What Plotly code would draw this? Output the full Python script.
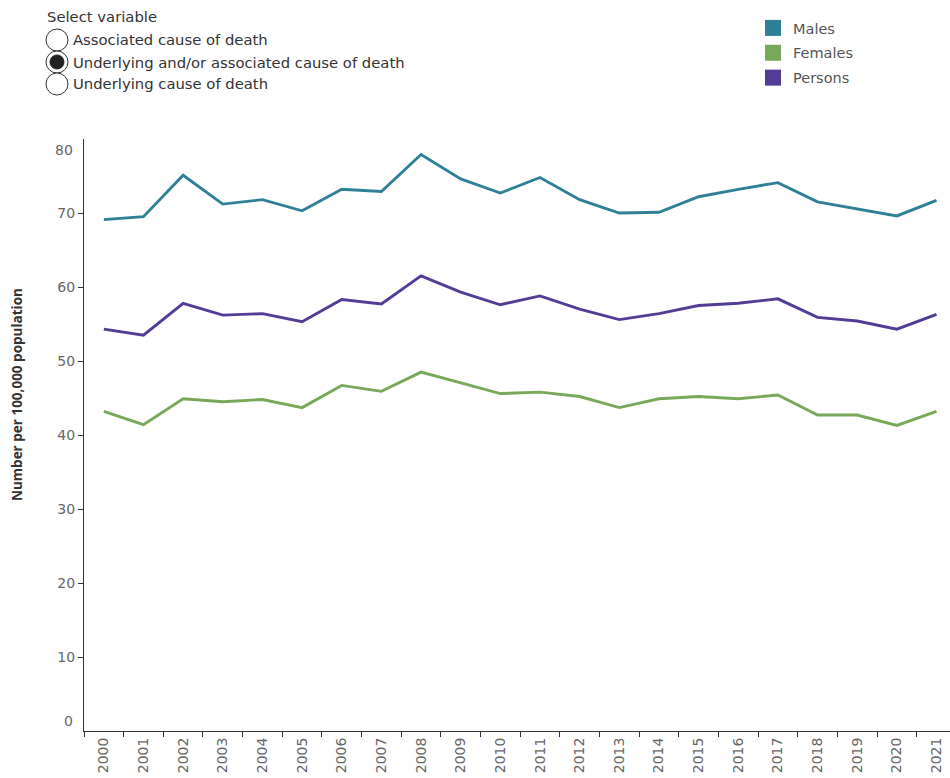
import plotly.graph_objects as go

years = [str(y) for y in range(2000, 2022)]
males = [69.1, 69.5, 75.1, 71.2, 71.8, 70.3, 73.2, 72.9, 77.9, 74.6, 72.7,
         74.8, 71.8, 70.0, 70.1, 72.2, 73.2, 74.1, 71.5, 70.6, 69.6, 71.7]
persons = [54.3, 53.5, 57.8, 56.2, 56.4, 55.3, 58.3, 57.7, 61.5, 59.3, 57.6,
           58.8, 57.0, 55.6, 56.4, 57.5, 57.8, 58.4, 55.9, 55.4, 54.3, 56.3]
females = [43.2, 41.4, 44.9, 44.5, 44.8, 43.7, 46.7, 45.9, 48.5, 47.1, 45.6,
           45.8, 45.2, 43.7, 44.9, 45.2, 44.9, 45.4, 42.7, 42.7, 41.3, 43.2]
series_names = ["Males", "Females", "Persons"]
series_colors = ["#2F8096", "#78A95A", "#523C96"]
y_ticks = [0, 10, 20, 30, 40, 50, 60, 70, 80]
radio_options = ["Associated cause of death",
                 "Underlying and/or associated cause of death",
                 "Underlying cause of death"]
selected_option = 1

W, H = 950, 778
L, R, T, B = 84, 0, 139, 47
PW, PH = W - L - R, H - T - B


def px(x):
    return (x - L) / PW


def py(y):
    return (H - B - y) / PH


FONT = "DejaVu Sans"
TICKC = "#666"
fig = go.Figure()
values = {"Males": males, "Females": females, "Persons": persons}
for name, col in zip(series_names, series_colors):
    fig.add_trace(go.Scatter(x=years, y=values[name], mode="lines", name=name,
                             line=dict(color=col, width=2.9), showlegend=False))
for name, col in zip(series_names, series_colors):
    fig.add_trace(go.Scatter(x=[None], y=[None], mode="markers", name=name,
                             legendgroup=name,
                             marker=dict(symbol="square", size=16, color=col)))

fig.update_layout(
    width=W, height=H, margin=dict(l=L, r=R, t=T, b=B),
    plot_bgcolor="white", paper_bgcolor="white",
    font=dict(family=FONT, size=14, color=TICKC),
    xaxis=dict(type="category", range=[-0.5, 21.34], showline=True, linecolor="#333",
               linewidth=1, ticks="outside", tickson="boundaries", ticklen=5,
               tickcolor="#333", tickangle=-90, showgrid=False,
               tickfont=dict(family=FONT, size=14, color=TICKC)),
    yaxis=dict(range=[0, 80], tickvals=y_ticks[1:-1], showline=True, linecolor="#333",
               linewidth=1, ticks="outside", ticklen=5, tickcolor="#333",
               showgrid=False, zeroline=False,
               tickfont=dict(family=FONT, size=14, color=TICKC)),
    legend=dict(x=px(753), y=py(12), xanchor="left", yanchor="top",
                font=dict(family=FONT, size=14.5, color="#555"), itemwidth=30,
                tracegroupgap=3, bgcolor="rgba(0,0,0,0)"),
    showlegend=True,
)

annotations = [
    dict(text=str(y_ticks[0]), x=px(75), y=py(721), xref="paper", yref="paper",
         xanchor="right", yanchor="middle", showarrow=False,
         font=dict(family=FONT, size=14, color=TICKC)),
    dict(text=str(y_ticks[-1]), x=px(75), y=py(150), xref="paper", yref="paper",
         xanchor="right", yanchor="middle", showarrow=False,
         font=dict(family=FONT, size=14, color=TICKC)),
    dict(text="<b>Number per 100,000 population</b>", x=px(17), y=py(395),
         xref="paper", yref="paper", textangle=-90, showarrow=False,
         xanchor="center", yanchor="middle",
         font=dict(family="Open Sans", size=13.5, color="#333")),
    dict(text="Select variable", x=px(45), y=py(17), xref="paper", yref="paper",
         xanchor="left", yanchor="middle", showarrow=False,
         font=dict(family=FONT, size=14.8, color="#333")),
]
shapes = []
for i, opt in enumerate(radio_options):
    cy = 40 + 22 * i
    annotations.append(dict(text=opt, x=px(71), y=py(cy), xref="paper", yref="paper",
                            xanchor="left", yanchor="middle", showarrow=False,
                            font=dict(family=FONT, size=14.8, color="#333")))
    shapes.append(dict(type="circle", xref="paper", yref="paper",
                       x0=px(46), x1=px(68), y0=py(cy + 11), y1=py(cy - 11),
                       line=dict(color="#333", width=1), fillcolor="white"))
    if i == selected_option:
        shapes.append(dict(type="circle", xref="paper", yref="paper",
                           x0=px(50), x1=px(64), y0=py(cy + 7), y1=py(cy - 7),
                           line=dict(color="#222", width=1), fillcolor="#222"))

fig.update_layout(annotations=annotations, shapes=shapes)
fig.write_html("out.html", config={"displayModeBar": False},
               post_script="document.body.style.margin='0px';document.body.style.overflow='hidden';")
